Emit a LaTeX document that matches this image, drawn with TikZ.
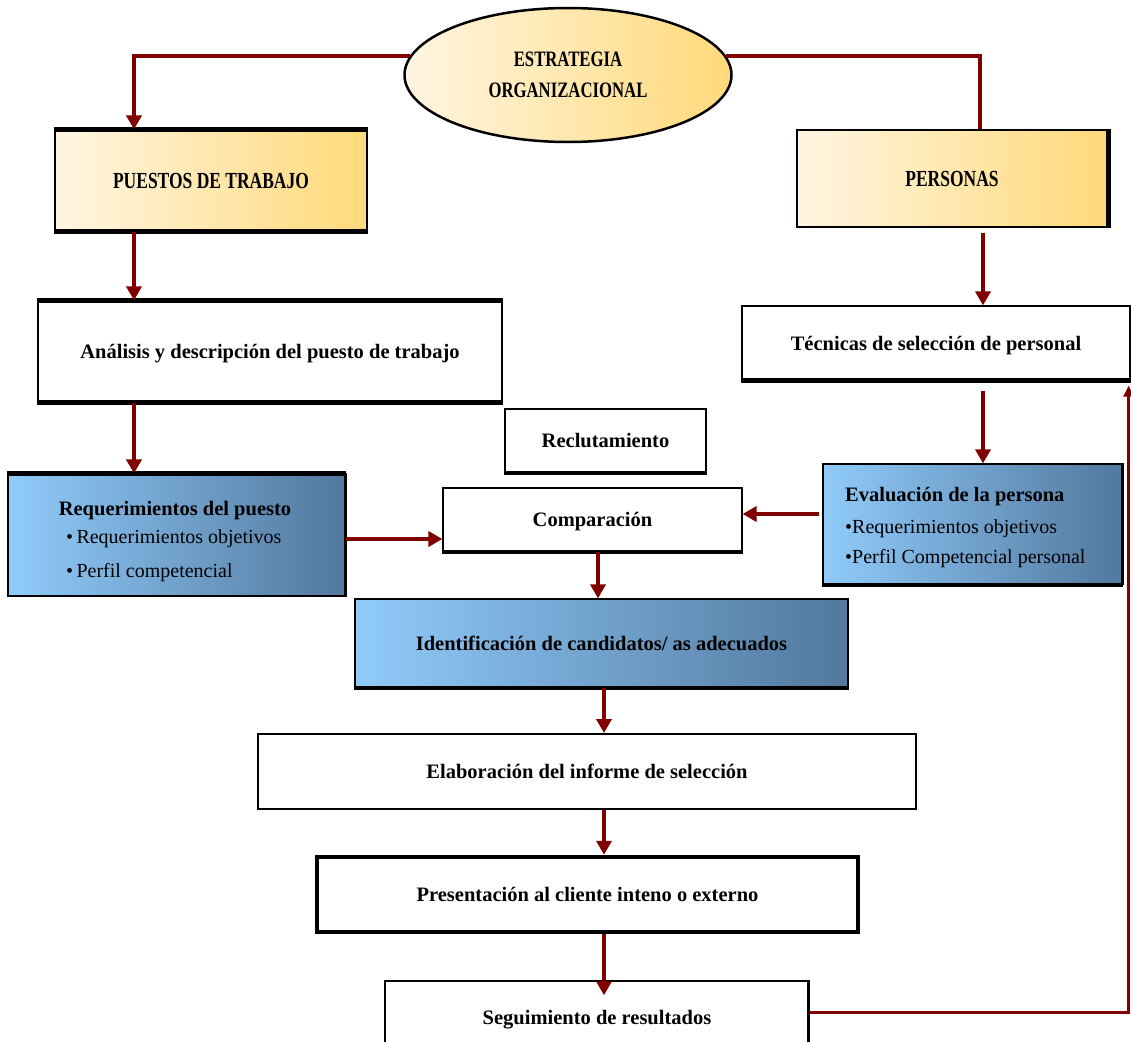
\documentclass[tikz,border=0pt]{standalone}
\usepackage{fontspec}
\setmainfont{Liberation Serif}
\newfontfamily\capsf[FakeStretch=0.76]{Liberation Serif}
\usetikzlibrary{arrows.meta,shapes.geometric}
\definecolor{arr}{HTML}{800000}
\definecolor{goldL}{HTML}{FFF5E2}
\definecolor{goldR}{HTML}{FFDA7A}
\definecolor{blueL}{HTML}{90CBFA}
\definecolor{blueR}{HTML}{52789E}
\tikzset{
  box/.style={draw=black, line width=1.2pt, inner sep=0pt, text depth=0pt, font=\fontsize{20.5}{22}\selectfont\bfseries},
  gold/.style={left color=goldL, right color=goldR},
  blue/.style={left color=blueL, right color=blueR},
  hdr/.style={font=\capsf\fontsize{23}{24}\selectfont\bfseries},
  lbl/.style={inner sep=0pt, text depth=0pt, font=\fontsize{20.5}{22}\selectfont\bfseries},
  bul/.style={inner sep=0pt, text depth=0pt, anchor=west, font=\fontsize{20}{22}\selectfont},
  thk/.style={line width=5pt, black},
  conn/.style={draw=arr, line width=4pt, -{Triangle[length=14pt,width=15pt]}},
  plain/.style={draw=arr, line width=4pt},
  back/.style={draw=arr, line width=3pt, -{Triangle[length=11pt,width=10pt]}}
}
\begin{document}
\begin{tikzpicture}[x=1pt,y=-1pt]
\clip (0,0) rectangle (1131,1041);
\fill[white] (0,0) rectangle (1131,1041);

% nodes
\node[ellipse, draw=black, line width=2.5pt, gold, minimum width=327pt, minimum height=134pt, inner sep=0pt, font=\capsf\fontsize{22}{31}\selectfont\bfseries, align=center] (ell) at (568,75) {ESTRATEGIA\\ORGANIZACIONAL};

\node[box, gold, hdr, minimum width=312pt, minimum height=101pt] (pues) at (211,180.5) {PUESTOS DE TRABAJO};
\draw[thk] (pues.north west) -- (pues.north east);
\draw[thk] (pues.south west) -- (pues.south east);

\node[box, gold, hdr, minimum width=310pt, minimum height=97pt] (pers) at (952,178.5) {PERSONAS};
\draw[line width=4pt] ([xshift=1pt]pers.north east) -- ([xshift=1pt]pers.south east);

\node[box, minimum width=464pt, minimum height=101pt] (anal) at (270,351.5) {Análisis y descripción del puesto de trabajo};
\draw[thk] (anal.north west) -- (anal.north east);
\draw[thk] (anal.south west) -- (anal.south east);

\node[box, minimum width=388pt, minimum height=74pt] (tec) at (936,343) {Técnicas de selección de personal};
\draw[thk] (tec.south west) -- (tec.south east);

\node[box, minimum width=201pt, minimum height=63pt] (recl) at (605.5,440.5) {Reclutamiento};
\draw[line width=4pt] (recl.south west) -- (recl.south east);

\node[box, minimum width=299pt, minimum height=63pt] (comp) at (592.5,519.5) {Comparación};
\draw[line width=4pt] (comp.south west) -- (comp.south east);

\node[box, blue, minimum width=337pt, minimum height=122pt] (req) at (176.5,535) {};
\draw[line width=4.5pt] (req.north west) -- (req.north east);
\draw[line width=2pt] (req.north east) -- (req.south east);
\node[lbl] (reqt) at (175,508) {Requerimientos del puesto};
\node[bul] (reqa) at (66,537) {•\,Requerimientos objetivos};
\node[bul] (reqb) at (66,570) {•\,Perfil competencial};

\node[box, blue, minimum width=299pt, minimum height=120pt] (eval) at (972.5,524) {};
\draw[line width=4pt] (eval.south west) -- (eval.south east);
\draw[line width=2pt] (eval.north east) -- (eval.south east);
\node[lbl, anchor=west] (evalt) at (845,494) {Evaluación de la persona};
\node[bul] (evala) at (845,527) {•Requerimientos objetivos};
\node[bul] (evalb) at (845,556) {•Perfil Competencial personal};

\node[box, blue, minimum width=493pt, minimum height=88pt] (ident) at (601.5,643) {Identificación de candidatos/ as adecuados};
\draw[line width=4pt] (ident.south west) -- (ident.south east);

\node[box, line width=2pt, minimum width=658pt, minimum height=75pt] (elab) at (587,771.5) {Elaboración del informe de selección};

\node[box, line width=4.5pt, minimum width=541pt, minimum height=75pt] (pres) at (587.5,894.5) {Presentación al cliente inteno o externo};

\node[box, line width=1.5pt, minimum width=423pt, minimum height=80pt] (seg) at (596.5,1021) {};
\draw[line width=3pt] (seg.north east) -- (seg.south east);
\node[lbl] (segt) at (597,1017) {Seguimiento de resultados};

% connectors
\draw[conn] (ell.173) -| ([xshift=-77pt]pues.north);
\draw[plain] (ell.7) -| ([xshift=28pt]pers.north);
\draw[conn] ([xshift=-77pt]pues.south) -- ([xshift=-136pt]anal.north);
\draw[conn] ([xshift=-136pt]anal.south) -- ([xshift=-42.5pt]req.north);
\draw[conn] ([xshift=31pt,yshift=-5pt]pers.south) -- ([xshift=47pt]tec.north);
\draw[conn] ([xshift=47pt,yshift=-10pt]tec.south) -- ([xshift=10.5pt]eval.north);
\draw[conn] ([xshift=-3pt,yshift=10pt]eval.west) -- ([yshift=5.5pt]comp.east);
\draw[conn] ([yshift=-4pt]req.east) -- ([yshift=-19.5pt]comp.west);
\draw[conn] ([xshift=5.5pt]comp.south) -- ([xshift=-3.5pt]ident.north);
\draw[conn] ([xshift=2.5pt]ident.south) -- ([xshift=17pt]elab.north);
\draw[conn] ([xshift=17pt]elab.south) -- ([xshift=16.5pt]pres.north);
\draw[conn] ([xshift=16.5pt]pres.south) -- ([xshift=7.5pt,yshift=-15pt]seg.north);
\draw[back] ([yshift=9pt]seg.east) -| ([xshift=-2pt,yshift=-5pt]tec.south east);
\end{tikzpicture}
\end{document}
